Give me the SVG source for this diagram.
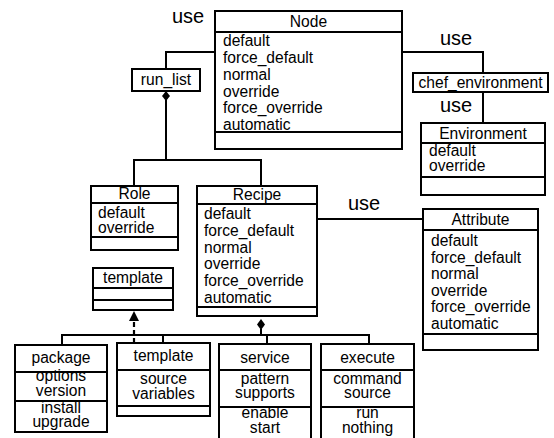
<svg xmlns="http://www.w3.org/2000/svg" width="554" height="438" viewBox="0 0 554 438">
<style>
.b{fill:#fff;stroke:#000;stroke-width:2}
.s{stroke:#000;stroke-width:2;fill:none}
text{font-family:"Liberation Sans",Arial,sans-serif;font-size:15.6px;fill:#000}
.c{text-anchor:middle}
.u{font-size:20px}
</style>
<rect width="554" height="438" fill="#fff"/>
<g id="connectors">
<polyline class="s" points="215,52 166,52 166,69"/>
<polyline class="s" points="402,52 483,52 483,73"/>
<line class="s" x1="483" y1="92" x2="483" y2="123"/>
<polyline class="s" points="166,100 166,160"/>
<polyline class="s" points="134,186 134,160 261,160 261,186"/>
<line class="s" x1="317" y1="219" x2="423" y2="219"/>
<polygon points="166,91 170,96 166,101 162,96" fill="#000"/>
<polyline class="s" points="261,329 261,335"/>
<polygon points="261,319 265,324.5 261,330 257,324.5" fill="#000"/>
<polyline class="s" points="62,345 62,335 369,335 369,344"/>
<line class="s" x1="163" y1="335" x2="163" y2="343"/>
<line class="s" x1="267" y1="335" x2="267" y2="344"/>
<line x1="134" y1="343" x2="134" y2="320" stroke="#000" stroke-width="2.2" stroke-dasharray="5,3"/>
<polygon points="134,311 139,321 129,321" fill="#000"/>
<text class="u" x="172" y="23">use</text>
<text class="u" x="440" y="45">use</text>
<text class="u" x="440" y="112">use</text>
<text class="u" x="348" y="210">use</text>
</g>
<g id="node">
<rect class="b" x="215" y="11" width="187" height="138"/>
<line class="s" x1="215" y1="32" x2="402" y2="32"/>
<line class="s" x1="215" y1="132" x2="402" y2="132"/>
<text class="c" x="308.5" y="27">Node</text>
<text x="223" y="46">default</text>
<text x="223" y="63">force_default</text>
<text x="223" y="79.5">normal</text>
<text x="223" y="96.5">override</text>
<text x="223" y="113">force_override</text>
<text x="223" y="129.5">automatic</text>
</g>
<g id="run_list">
<rect class="b" x="132" y="69" width="68" height="22"/>
<text class="c" x="166" y="85">run_list</text>
</g>
<g id="chef_environment">
<rect class="b" x="413" y="73" width="135" height="19"/>
<text class="c" x="480.5" y="88">chef_environment</text>
</g>
<g id="environment">
<rect class="b" x="421" y="123" width="124" height="72"/>
<line class="s" x1="421" y1="143" x2="545" y2="143"/>
<line class="s" x1="421" y1="177" x2="545" y2="177"/>
<text class="c" x="483" y="139">Environment</text>
<text x="429" y="156">default</text>
<text x="429" y="171">override</text>
</g>
<g id="role">
<rect class="b" x="91" y="186" width="87" height="64"/>
<line class="s" x1="91" y1="203" x2="178" y2="203"/>
<line class="s" x1="91" y1="237" x2="178" y2="237"/>
<text class="c" x="134.5" y="199">Role</text>
<text x="98" y="218">default</text>
<text x="98" y="233">override</text>
</g>
<g id="recipe">
<rect class="b" x="197" y="186" width="120" height="130"/>
<line class="s" x1="197" y1="204" x2="317" y2="204"/>
<line class="s" x1="197" y1="307" x2="317" y2="307"/>
<text class="c" x="257" y="200">Recipe</text>
<text x="204" y="219">default</text>
<text x="204" y="236">force_default</text>
<text x="204" y="252.5">normal</text>
<text x="204" y="269">override</text>
<text x="204" y="286">force_override</text>
<text x="204" y="302.5">automatic</text>
</g>
<g id="attribute">
<rect class="b" x="423" y="209" width="115" height="141"/>
<line class="s" x1="423" y1="230" x2="538" y2="230"/>
<line class="s" x1="423" y1="334" x2="538" y2="334"/>
<text class="c" x="480.5" y="225">Attribute</text>
<text x="431" y="246">default</text>
<text x="431" y="262.5">force_default</text>
<text x="431" y="279">normal</text>
<text x="431" y="295.5">override</text>
<text x="431" y="312">force_override</text>
<text x="431" y="328.5">automatic</text>
</g>
<g id="template_iface">
<rect class="b" x="93" y="268" width="80" height="42"/>
<line class="s" x1="93" y1="288" x2="173" y2="288"/>
<line class="s" x1="93" y1="300" x2="173" y2="300"/>
<text class="c" x="133" y="283">template</text>
</g>
<g id="package">
<rect class="b" x="15" y="345" width="92" height="87"/>
<line class="s" x1="15" y1="372" x2="107" y2="372"/>
<line class="s" x1="15" y1="401" x2="107" y2="401"/>
<text class="c" x="61" y="363">package</text>
<text class="c" x="61" y="381">options</text>
<text class="c" x="61" y="396">version</text>
<text class="c" x="61" y="413">install</text>
<text class="c" x="61" y="427">upgrade</text>
</g>
<g id="template">
<rect class="b" x="117" y="343" width="93" height="73"/>
<line class="s" x1="117" y1="370" x2="210" y2="370"/>
<line class="s" x1="117" y1="406" x2="210" y2="406"/>
<text class="c" x="163.5" y="361">template</text>
<text class="c" x="163.5" y="384">source</text>
<text class="c" x="163.5" y="399">variables</text>
</g>
<g id="service">
<rect class="b" x="219" y="344" width="92" height="97"/>
<line class="s" x1="219" y1="370" x2="311" y2="370"/>
<line class="s" x1="219" y1="407" x2="311" y2="407"/>
<text class="c" x="265" y="363">service</text>
<text class="c" x="265" y="384">pattern</text>
<text class="c" x="265" y="398">supports</text>
<text class="c" x="265" y="418">enable</text>
<text class="c" x="265" y="433">start</text>
</g>
<g id="execute">
<rect class="b" x="321" y="344" width="93" height="97"/>
<line class="s" x1="321" y1="370" x2="414" y2="370"/>
<line class="s" x1="321" y1="407" x2="414" y2="407"/>
<text class="c" x="367.5" y="363">execute</text>
<text class="c" x="367.5" y="384">command</text>
<text class="c" x="367.5" y="398">source</text>
<text class="c" x="367.5" y="418">run</text>
<text class="c" x="367.5" y="433">nothing</text>
</g>
</svg>
